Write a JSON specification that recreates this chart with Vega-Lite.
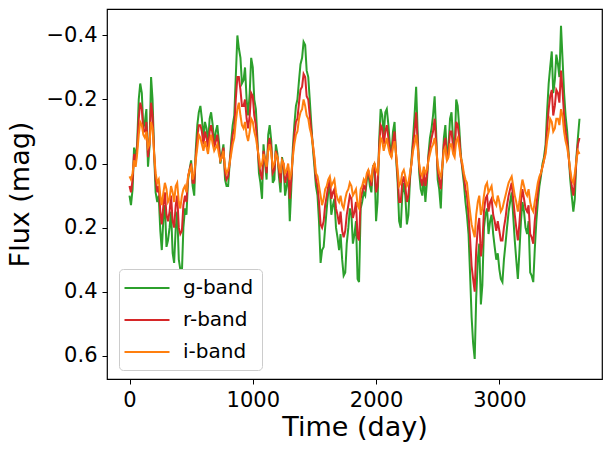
{
  "$schema": "https://vega.github.io/schema/vega-lite/v6.json",
  "autosize": "none",
  "width": 495,
  "height": 370,
  "padding": {"left": 107, "top": 9, "right": 11, "bottom": 73},
  "background": "white",
  "config": {
    "font": "DejaVu Sans",
    "view": {"stroke": "black", "strokeWidth": 1.2},
    "axis": {
      "domain": false,
      "grid": false,
      "tickColor": "black",
      "tickSize": 5,
      "tickWidth": 1,
      "labelColor": "black",
      "labelFontSize": 21,
      "labelPadding": 5,
      "titleColor": "black",
      "titleFontSize": 27,
      "titleFontWeight": "normal"
    }
  },
  "data": {
    "values": [
      {"t":0,"band":"g-band","mag":0.10},{"t":25,"band":"g-band","mag":0.08},{"t":50,"band":"g-band","mag":-0.02},{"t":75,"band":"g-band","mag":-0.20},{"t":100,"band":"g-band","mag":-0.22},{"t":125,"band":"g-band","mag":-0.13},{"t":150,"band":"g-band","mag":0.01},{"t":175,"band":"g-band","mag":-0.27},{"t":200,"band":"g-band","mag":-0.03},{"t":225,"band":"g-band","mag":0.12},{"t":250,"band":"g-band","mag":0.21},{"t":275,"band":"g-band","mag":0.17},{"t":300,"band":"g-band","mag":0.26},{"t":325,"band":"g-band","mag":0.20},{"t":350,"band":"g-band","mag":0.28},{"t":375,"band":"g-band","mag":0.20},{"t":400,"band":"g-band","mag":0.30},{"t":425,"band":"g-band","mag":0.34},{"t":450,"band":"g-band","mag":0.14},{"t":475,"band":"g-band","mag":0.05},{"t":500,"band":"g-band","mag":-0.01},{"t":525,"band":"g-band","mag":0.10},{"t":550,"band":"g-band","mag":-0.12},{"t":575,"band":"g-band","mag":-0.18},{"t":600,"band":"g-band","mag":-0.08},{"t":625,"band":"g-band","mag":-0.11},{"t":650,"band":"g-band","mag":-0.14},{"t":675,"band":"g-band","mag":-0.12},{"t":700,"band":"g-band","mag":-0.10},{"t":725,"band":"g-band","mag":-0.07},{"t":750,"band":"g-band","mag":-0.03},{"t":775,"band":"g-band","mag":0.05},{"t":800,"band":"g-band","mag":0.07},{"t":825,"band":"g-band","mag":-0.07},{"t":850,"band":"g-band","mag":-0.15},{"t":875,"band":"g-band","mag":-0.40},{"t":900,"band":"g-band","mag":-0.33},{"t":925,"band":"g-band","mag":-0.26},{"t":950,"band":"g-band","mag":-0.20},{"t":975,"band":"g-band","mag":-0.22},{"t":1000,"band":"g-band","mag":-0.30},{"t":1025,"band":"g-band","mag":-0.17},{"t":1050,"band":"g-band","mag":0.03},{"t":1075,"band":"g-band","mag":0.11},{"t":1100,"band":"g-band","mag":0.00},{"t":1125,"band":"g-band","mag":-0.09},{"t":1150,"band":"g-band","mag":-0.07},{"t":1175,"band":"g-band","mag":0.05},{"t":1200,"band":"g-band","mag":-0.03},{"t":1225,"band":"g-band","mag":0.09},{"t":1250,"band":"g-band","mag":0.01},{"t":1275,"band":"g-band","mag":0.07},{"t":1300,"band":"g-band","mag":0.18},{"t":1325,"band":"g-band","mag":-0.05},{"t":1350,"band":"g-band","mag":-0.18},{"t":1375,"band":"g-band","mag":-0.26},{"t":1400,"band":"g-band","mag":-0.33},{"t":1425,"band":"g-band","mag":-0.37},{"t":1450,"band":"g-band","mag":-0.27},{"t":1475,"band":"g-band","mag":-0.12},{"t":1500,"band":"g-band","mag":0.01},{"t":1525,"band":"g-band","mag":0.10},{"t":1550,"band":"g-band","mag":0.31},{"t":1575,"band":"g-band","mag":0.26},{"t":1600,"band":"g-band","mag":0.14},{"t":1625,"band":"g-band","mag":0.07},{"t":1650,"band":"g-band","mag":0.13},{"t":1675,"band":"g-band","mag":0.20},{"t":1700,"band":"g-band","mag":0.27},{"t":1725,"band":"g-band","mag":0.30},{"t":1750,"band":"g-band","mag":0.34},{"t":1775,"band":"g-band","mag":0.20},{"t":1800,"band":"g-band","mag":0.16},{"t":1825,"band":"g-band","mag":0.22},{"t":1850,"band":"g-band","mag":0.36},{"t":1875,"band":"g-band","mag":0.14},{"t":1900,"band":"g-band","mag":0.09},{"t":1925,"band":"g-band","mag":0.05},{"t":1950,"band":"g-band","mag":0.07},{"t":1975,"band":"g-band","mag":0.01},{"t":2000,"band":"g-band","mag":0.18},{"t":2025,"band":"g-band","mag":-0.07},{"t":2050,"band":"g-band","mag":-0.15},{"t":2075,"band":"g-band","mag":-0.16},{"t":2100,"band":"g-band","mag":-0.12},{"t":2125,"band":"g-band","mag":-0.03},{"t":2150,"band":"g-band","mag":-0.13},{"t":2175,"band":"g-band","mag":0.06},{"t":2200,"band":"g-band","mag":0.20},{"t":2225,"band":"g-band","mag":0.06},{"t":2250,"band":"g-band","mag":0.19},{"t":2275,"band":"g-band","mag":0.05},{"t":2300,"band":"g-band","mag":-0.08},{"t":2325,"band":"g-band","mag":-0.24},{"t":2350,"band":"g-band","mag":0.03},{"t":2375,"band":"g-band","mag":0.10},{"t":2400,"band":"g-band","mag":0.12},{"t":2425,"band":"g-band","mag":-0.03},{"t":2450,"band":"g-band","mag":-0.11},{"t":2475,"band":"g-band","mag":-0.21},{"t":2500,"band":"g-band","mag":0.05},{"t":2525,"band":"g-band","mag":0.14},{"t":2550,"band":"g-band","mag":-0.08},{"t":2575,"band":"g-band","mag":-0.02},{"t":2600,"band":"g-band","mag":-0.14},{"t":2625,"band":"g-band","mag":-0.07},{"t":2650,"band":"g-band","mag":-0.20},{"t":2675,"band":"g-band","mag":-0.11},{"t":2700,"band":"g-band","mag":0.02},{"t":2725,"band":"g-band","mag":0.12},{"t":2750,"band":"g-band","mag":0.22},{"t":2775,"band":"g-band","mag":0.48},{"t":2800,"band":"g-band","mag":0.61},{"t":2825,"band":"g-band","mag":0.30},{"t":2850,"band":"g-band","mag":0.44},{"t":2875,"band":"g-band","mag":0.20},{"t":2900,"band":"g-band","mag":0.14},{"t":2925,"band":"g-band","mag":0.18},{"t":2950,"band":"g-band","mag":0.22},{"t":2975,"band":"g-band","mag":0.30},{"t":3000,"band":"g-band","mag":0.33},{"t":3025,"band":"g-band","mag":0.37},{"t":3050,"band":"g-band","mag":0.25},{"t":3075,"band":"g-band","mag":0.15},{"t":3100,"band":"g-band","mag":0.09},{"t":3125,"band":"g-band","mag":0.24},{"t":3150,"band":"g-band","mag":0.36},{"t":3175,"band":"g-band","mag":0.18},{"t":3200,"band":"g-band","mag":0.15},{"t":3225,"band":"g-band","mag":0.22},{"t":3250,"band":"g-band","mag":0.34},{"t":3275,"band":"g-band","mag":0.37},{"t":3300,"band":"g-band","mag":0.18},{"t":3325,"band":"g-band","mag":0.07},{"t":3350,"band":"g-band","mag":0.00},{"t":3375,"band":"g-band","mag":-0.06},{"t":3400,"band":"g-band","mag":-0.25},{"t":3425,"band":"g-band","mag":-0.35},{"t":3450,"band":"g-band","mag":-0.26},{"t":3475,"band":"g-band","mag":-0.31},{"t":3500,"band":"g-band","mag":-0.43},{"t":3525,"band":"g-band","mag":-0.22},{"t":3550,"band":"g-band","mag":-0.10},{"t":3575,"band":"g-band","mag":0.05},{"t":3600,"band":"g-band","mag":0.15},{"t":3625,"band":"g-band","mag":-0.02},{"t":3650,"band":"g-band","mag":-0.14},

      {"t":0,"band":"r-band","mag":0.07},{"t":25,"band":"r-band","mag":0.05},{"t":50,"band":"r-band","mag":0.00},{"t":75,"band":"r-band","mag":-0.14},{"t":100,"band":"r-band","mag":-0.17},{"t":125,"band":"r-band","mag":-0.10},{"t":150,"band":"r-band","mag":-0.02},{"t":175,"band":"r-band","mag":-0.19},{"t":200,"band":"r-band","mag":-0.03},{"t":225,"band":"r-band","mag":0.09},{"t":250,"band":"r-band","mag":0.15},{"t":275,"band":"r-band","mag":0.13},{"t":300,"band":"r-band","mag":0.16},{"t":325,"band":"r-band","mag":0.15},{"t":350,"band":"r-band","mag":0.18},{"t":375,"band":"r-band","mag":0.13},{"t":400,"band":"r-band","mag":0.20},{"t":425,"band":"r-band","mag":0.21},{"t":450,"band":"r-band","mag":0.10},{"t":475,"band":"r-band","mag":0.04},{"t":500,"band":"r-band","mag":0.00},{"t":525,"band":"r-band","mag":0.06},{"t":550,"band":"r-band","mag":-0.08},{"t":575,"band":"r-band","mag":-0.12},{"t":600,"band":"r-band","mag":-0.06},{"t":625,"band":"r-band","mag":-0.08},{"t":650,"band":"r-band","mag":-0.10},{"t":675,"band":"r-band","mag":-0.09},{"t":700,"band":"r-band","mag":-0.07},{"t":725,"band":"r-band","mag":-0.05},{"t":750,"band":"r-band","mag":-0.02},{"t":775,"band":"r-band","mag":0.03},{"t":800,"band":"r-band","mag":0.04},{"t":825,"band":"r-band","mag":-0.05},{"t":850,"band":"r-band","mag":-0.11},{"t":875,"band":"r-band","mag":-0.27},{"t":900,"band":"r-band","mag":-0.23},{"t":925,"band":"r-band","mag":-0.18},{"t":950,"band":"r-band","mag":-0.14},{"t":975,"band":"r-band","mag":-0.15},{"t":1000,"band":"r-band","mag":-0.21},{"t":1025,"band":"r-band","mag":-0.12},{"t":1050,"band":"r-band","mag":0.00},{"t":1075,"band":"r-band","mag":0.05},{"t":1100,"band":"r-band","mag":-0.01},{"t":1125,"band":"r-band","mag":-0.06},{"t":1150,"band":"r-band","mag":-0.05},{"t":1175,"band":"r-band","mag":0.02},{"t":1200,"band":"r-band","mag":-0.02},{"t":1225,"band":"r-band","mag":0.06},{"t":1250,"band":"r-band","mag":0.00},{"t":1275,"band":"r-band","mag":0.04},{"t":1300,"band":"r-band","mag":0.11},{"t":1325,"band":"r-band","mag":-0.03},{"t":1350,"band":"r-band","mag":-0.13},{"t":1375,"band":"r-band","mag":-0.19},{"t":1400,"band":"r-band","mag":-0.24},{"t":1425,"band":"r-band","mag":-0.27},{"t":1450,"band":"r-band","mag":-0.20},{"t":1475,"band":"r-band","mag":-0.10},{"t":1500,"band":"r-band","mag":-0.01},{"t":1525,"band":"r-band","mag":0.07},{"t":1550,"band":"r-band","mag":0.19},{"t":1575,"band":"r-band","mag":0.18},{"t":1600,"band":"r-band","mag":0.10},{"t":1625,"band":"r-band","mag":0.05},{"t":1650,"band":"r-band","mag":0.09},{"t":1675,"band":"r-band","mag":0.14},{"t":1700,"band":"r-band","mag":0.19},{"t":1725,"band":"r-band","mag":0.21},{"t":1750,"band":"r-band","mag":0.21},{"t":1775,"band":"r-band","mag":0.13},{"t":1800,"band":"r-band","mag":0.11},{"t":1825,"band":"r-band","mag":0.15},{"t":1850,"band":"r-band","mag":0.23},{"t":1875,"band":"r-band","mag":0.11},{"t":1900,"band":"r-band","mag":0.07},{"t":1925,"band":"r-band","mag":0.04},{"t":1950,"band":"r-band","mag":0.05},{"t":1975,"band":"r-band","mag":0.01},{"t":2000,"band":"r-band","mag":0.09},{"t":2025,"band":"r-band","mag":-0.05},{"t":2050,"band":"r-band","mag":-0.11},{"t":2075,"band":"r-band","mag":-0.10},{"t":2100,"band":"r-band","mag":-0.08},{"t":2125,"band":"r-band","mag":-0.02},{"t":2150,"band":"r-band","mag":-0.10},{"t":2175,"band":"r-band","mag":0.04},{"t":2200,"band":"r-band","mag":0.12},{"t":2225,"band":"r-band","mag":0.04},{"t":2250,"band":"r-band","mag":0.12},{"t":2275,"band":"r-band","mag":0.04},{"t":2300,"band":"r-band","mag":-0.06},{"t":2325,"band":"r-band","mag":-0.16},{"t":2350,"band":"r-band","mag":0.01},{"t":2375,"band":"r-band","mag":0.07},{"t":2400,"band":"r-band","mag":0.07},{"t":2425,"band":"r-band","mag":-0.02},{"t":2450,"band":"r-band","mag":-0.08},{"t":2475,"band":"r-band","mag":-0.14},{"t":2500,"band":"r-band","mag":0.02},{"t":2525,"band":"r-band","mag":0.08},{"t":2550,"band":"r-band","mag":-0.06},{"t":2575,"band":"r-band","mag":-0.01},{"t":2600,"band":"r-band","mag":-0.10},{"t":2625,"band":"r-band","mag":-0.05},{"t":2650,"band":"r-band","mag":-0.13},{"t":2675,"band":"r-band","mag":-0.08},{"t":2700,"band":"r-band","mag":0.01},{"t":2725,"band":"r-band","mag":0.08},{"t":2750,"band":"r-band","mag":0.16},{"t":2775,"band":"r-band","mag":0.32},{"t":2800,"band":"r-band","mag":0.40},{"t":2825,"band":"r-band","mag":0.20},{"t":2850,"band":"r-band","mag":0.29},{"t":2875,"band":"r-band","mag":0.15},{"t":2900,"band":"r-band","mag":0.10},{"t":2925,"band":"r-band","mag":0.12},{"t":2950,"band":"r-band","mag":0.16},{"t":2975,"band":"r-band","mag":0.21},{"t":3000,"band":"r-band","mag":0.21},{"t":3025,"band":"r-band","mag":0.24},{"t":3050,"band":"r-band","mag":0.17},{"t":3075,"band":"r-band","mag":0.10},{"t":3100,"band":"r-band","mag":0.06},{"t":3125,"band":"r-band","mag":0.16},{"t":3150,"band":"r-band","mag":0.24},{"t":3175,"band":"r-band","mag":0.12},{"t":3200,"band":"r-band","mag":0.11},{"t":3225,"band":"r-band","mag":0.15},{"t":3250,"band":"r-band","mag":0.22},{"t":3275,"band":"r-band","mag":0.25},{"t":3300,"band":"r-band","mag":0.13},{"t":3325,"band":"r-band","mag":0.05},{"t":3350,"band":"r-band","mag":0.01},{"t":3375,"band":"r-band","mag":-0.04},{"t":3400,"band":"r-band","mag":-0.17},{"t":3425,"band":"r-band","mag":-0.23},{"t":3450,"band":"r-band","mag":-0.18},{"t":3475,"band":"r-band","mag":-0.22},{"t":3500,"band":"r-band","mag":-0.29},{"t":3525,"band":"r-band","mag":-0.15},{"t":3550,"band":"r-band","mag":-0.07},{"t":3575,"band":"r-band","mag":0.03},{"t":3600,"band":"r-band","mag":0.10},{"t":3625,"band":"r-band","mag":-0.01},{"t":3650,"band":"r-band","mag":-0.08},

      {"t":0,"band":"i-band","mag":0.04},{"t":25,"band":"i-band","mag":0.03},{"t":50,"band":"i-band","mag":0.01},{"t":75,"band":"i-band","mag":-0.09},{"t":100,"band":"i-band","mag":-0.12},{"t":125,"band":"i-band","mag":-0.08},{"t":150,"band":"i-band","mag":-0.05},{"t":175,"band":"i-band","mag":-0.13},{"t":200,"band":"i-band","mag":-0.03},{"t":225,"band":"i-band","mag":0.06},{"t":250,"band":"i-band","mag":0.10},{"t":275,"band":"i-band","mag":0.09},{"t":300,"band":"i-band","mag":0.08},{"t":325,"band":"i-band","mag":0.11},{"t":350,"band":"i-band","mag":0.09},{"t":375,"band":"i-band","mag":0.07},{"t":400,"band":"i-band","mag":0.12},{"t":425,"band":"i-band","mag":0.10},{"t":450,"band":"i-band","mag":0.07},{"t":475,"band":"i-band","mag":0.04},{"t":500,"band":"i-band","mag":0.01},{"t":525,"band":"i-band","mag":0.03},{"t":550,"band":"i-band","mag":-0.05},{"t":575,"band":"i-band","mag":-0.08},{"t":600,"band":"i-band","mag":-0.04},{"t":625,"band":"i-band","mag":-0.05},{"t":650,"band":"i-band","mag":-0.07},{"t":675,"band":"i-band","mag":-0.06},{"t":700,"band":"i-band","mag":-0.05},{"t":725,"band":"i-band","mag":-0.03},{"t":750,"band":"i-band","mag":-0.02},{"t":775,"band":"i-band","mag":0.01},{"t":800,"band":"i-band","mag":0.02},{"t":825,"band":"i-band","mag":-0.03},{"t":850,"band":"i-band","mag":-0.08},{"t":875,"band":"i-band","mag":-0.17},{"t":900,"band":"i-band","mag":-0.15},{"t":925,"band":"i-band","mag":-0.11},{"t":950,"band":"i-band","mag":-0.09},{"t":975,"band":"i-band","mag":-0.10},{"t":1000,"band":"i-band","mag":-0.13},{"t":1025,"band":"i-band","mag":-0.08},{"t":1050,"band":"i-band","mag":-0.02},{"t":1075,"band":"i-band","mag":0.00},{"t":1100,"band":"i-band","mag":-0.01},{"t":1125,"band":"i-band","mag":-0.04},{"t":1150,"band":"i-band","mag":-0.03},{"t":1175,"band":"i-band","mag":0.00},{"t":1200,"band":"i-band","mag":-0.02},{"t":1225,"band":"i-band","mag":0.03},{"t":1250,"band":"i-band","mag":0.00},{"t":1275,"band":"i-band","mag":0.02},{"t":1300,"band":"i-band","mag":0.05},{"t":1325,"band":"i-band","mag":-0.02},{"t":1350,"band":"i-band","mag":-0.09},{"t":1375,"band":"i-band","mag":-0.14},{"t":1400,"band":"i-band","mag":-0.17},{"t":1425,"band":"i-band","mag":-0.18},{"t":1450,"band":"i-band","mag":-0.14},{"t":1475,"band":"i-band","mag":-0.09},{"t":1500,"band":"i-band","mag":-0.02},{"t":1525,"band":"i-band","mag":0.04},{"t":1550,"band":"i-band","mag":0.10},{"t":1575,"band":"i-band","mag":0.11},{"t":1600,"band":"i-band","mag":0.07},{"t":1625,"band":"i-band","mag":0.04},{"t":1650,"band":"i-band","mag":0.06},{"t":1675,"band":"i-band","mag":0.09},{"t":1700,"band":"i-band","mag":0.12},{"t":1725,"band":"i-band","mag":0.13},{"t":1750,"band":"i-band","mag":0.11},{"t":1775,"band":"i-band","mag":0.08},{"t":1800,"band":"i-band","mag":0.07},{"t":1825,"band":"i-band","mag":0.09},{"t":1850,"band":"i-band","mag":0.13},{"t":1875,"band":"i-band","mag":0.08},{"t":1900,"band":"i-band","mag":0.05},{"t":1925,"band":"i-band","mag":0.03},{"t":1950,"band":"i-band","mag":0.04},{"t":1975,"band":"i-band","mag":0.01},{"t":2000,"band":"i-band","mag":0.02},{"t":2025,"band":"i-band","mag":-0.03},{"t":2050,"band":"i-band","mag":-0.07},{"t":2075,"band":"i-band","mag":-0.06},{"t":2100,"band":"i-band","mag":-0.05},{"t":2125,"band":"i-band","mag":-0.02},{"t":2150,"band":"i-band","mag":-0.07},{"t":2175,"band":"i-band","mag":0.02},{"t":2200,"band":"i-band","mag":0.06},{"t":2225,"band":"i-band","mag":0.02},{"t":2250,"band":"i-band","mag":0.07},{"t":2275,"band":"i-band","mag":0.03},{"t":2300,"band":"i-band","mag":-0.04},{"t":2325,"band":"i-band","mag":-0.09},{"t":2350,"band":"i-band","mag":0.00},{"t":2375,"band":"i-band","mag":0.04},{"t":2400,"band":"i-band","mag":0.03},{"t":2425,"band":"i-band","mag":-0.01},{"t":2450,"band":"i-band","mag":-0.05},{"t":2475,"band":"i-band","mag":-0.08},{"t":2500,"band":"i-band","mag":0.00},{"t":2525,"band":"i-band","mag":0.04},{"t":2550,"band":"i-band","mag":-0.04},{"t":2575,"band":"i-band","mag":-0.01},{"t":2600,"band":"i-band","mag":-0.06},{"t":2625,"band":"i-band","mag":-0.03},{"t":2650,"band":"i-band","mag":-0.07},{"t":2675,"band":"i-band","mag":-0.05},{"t":2700,"band":"i-band","mag":0.00},{"t":2725,"band":"i-band","mag":0.05},{"t":2750,"band":"i-band","mag":0.11},{"t":2775,"band":"i-band","mag":0.19},{"t":2800,"band":"i-band","mag":0.23},{"t":2825,"band":"i-band","mag":0.12},{"t":2850,"band":"i-band","mag":0.16},{"t":2875,"band":"i-band","mag":0.10},{"t":2900,"band":"i-band","mag":0.06},{"t":2925,"band":"i-band","mag":0.08},{"t":2950,"band":"i-band","mag":0.11},{"t":2975,"band":"i-band","mag":0.13},{"t":3000,"band":"i-band","mag":0.12},{"t":3025,"band":"i-band","mag":0.14},{"t":3050,"band":"i-band","mag":0.10},{"t":3075,"band":"i-band","mag":0.06},{"t":3100,"band":"i-band","mag":0.04},{"t":3125,"band":"i-band","mag":0.10},{"t":3150,"band":"i-band","mag":0.15},{"t":3175,"band":"i-band","mag":0.08},{"t":3200,"band":"i-band","mag":0.07},{"t":3225,"band":"i-band","mag":0.10},{"t":3250,"band":"i-band","mag":0.12},{"t":3275,"band":"i-band","mag":0.15},{"t":3300,"band":"i-band","mag":0.09},{"t":3325,"band":"i-band","mag":0.04},{"t":3350,"band":"i-band","mag":0.01},{"t":3375,"band":"i-band","mag":-0.03},{"t":3400,"band":"i-band","mag":-0.10},{"t":3425,"band":"i-band","mag":-0.13},{"t":3450,"band":"i-band","mag":-0.11},{"t":3475,"band":"i-band","mag":-0.14},{"t":3500,"band":"i-band","mag":-0.17},{"t":3525,"band":"i-band","mag":-0.10},{"t":3550,"band":"i-band","mag":-0.05},{"t":3575,"band":"i-band","mag":0.02},{"t":3600,"band":"i-band","mag":0.06},{"t":3625,"band":"i-band","mag":-0.01},{"t":3650,"band":"i-band","mag":-0.03},

      {"t":12,"band":"g-band","mag":0.13},{"t":37,"band":"g-band","mag":-0.05},{"t":62,"band":"g-band","mag":-0.06},{"t":87,"band":"g-band","mag":-0.25},{"t":112,"band":"g-band","mag":-0.11},{"t":137,"band":"g-band","mag":-0.17},{"t":162,"band":"g-band","mag":-0.05},{"t":187,"band":"g-band","mag":-0.20},{"t":212,"band":"g-band","mag":0.09},{"t":237,"band":"g-band","mag":0.10},{"t":262,"band":"g-band","mag":0.27},{"t":287,"band":"g-band","mag":0.13},{"t":312,"band":"g-band","mag":0.24},{"t":337,"band":"g-band","mag":0.15},{"t":362,"band":"g-band","mag":0.31},{"t":387,"band":"g-band","mag":0.15},{"t":412,"band":"g-band","mag":0.33},{"t":437,"band":"g-band","mag":0.20},{"t":462,"band":"g-band","mag":0.16},{"t":487,"band":"g-band","mag":0.02},{"t":512,"band":"g-band","mag":0.07},{"t":537,"band":"g-band","mag":-0.04},{"t":562,"band":"g-band","mag":-0.16},{"t":587,"band":"g-band","mag":-0.14},{"t":612,"band":"g-band","mag":-0.13},{"t":637,"band":"g-band","mag":-0.06},{"t":662,"band":"g-band","mag":-0.16},{"t":687,"band":"g-band","mag":-0.06},{"t":712,"band":"g-band","mag":-0.12},{"t":737,"band":"g-band","mag":0.00},{"t":762,"band":"g-band","mag":-0.06},{"t":787,"band":"g-band","mag":0.07},{"t":812,"band":"g-band","mag":0.00},{"t":837,"band":"g-band","mag":-0.12},{"t":862,"band":"g-band","mag":-0.27},{"t":887,"band":"g-band","mag":-0.36},{"t":912,"band":"g-band","mag":-0.25},{"t":937,"band":"g-band","mag":-0.30},{"t":962,"band":"g-band","mag":-0.15},{"t":987,"band":"g-band","mag":-0.33},{"t":1012,"band":"g-band","mag":-0.20},{"t":1037,"band":"g-band","mag":-0.08},{"t":1062,"band":"g-band","mag":0.06},{"t":1087,"band":"g-band","mag":-0.06},{"t":1112,"band":"g-band","mag":0.05},{"t":1137,"band":"g-band","mag":-0.12},{"t":1162,"band":"g-band","mag":0.06},{"t":1187,"band":"g-band","mag":-0.06},{"t":1212,"band":"g-band","mag":0.04},{"t":1237,"band":"g-band","mag":-0.02},{"t":1262,"band":"g-band","mag":0.10},{"t":1287,"band":"g-band","mag":0.02},{"t":1312,"band":"g-band","mag":0.08},{"t":1337,"band":"g-band","mag":-0.12},{"t":1362,"band":"g-band","mag":-0.20},{"t":1387,"band":"g-band","mag":-0.31},{"t":1412,"band":"g-band","mag":-0.38},{"t":1437,"band":"g-band","mag":-0.29},{"t":1462,"band":"g-band","mag":-0.20},{"t":1487,"band":"g-band","mag":-0.05},{"t":1512,"band":"g-band","mag":0.07},{"t":1537,"band":"g-band","mag":0.18},{"t":1562,"band":"g-band","mag":0.27},{"t":1587,"band":"g-band","mag":0.20},{"t":1612,"band":"g-band","mag":0.09},{"t":1637,"band":"g-band","mag":0.16},{"t":1662,"band":"g-band","mag":0.11},{"t":1687,"band":"g-band","mag":0.23},{"t":1712,"band":"g-band","mag":0.22},{"t":1737,"band":"g-band","mag":0.35},{"t":1762,"band":"g-band","mag":0.25},{"t":1787,"band":"g-band","mag":0.14},{"t":1812,"band":"g-band","mag":0.25},{"t":1837,"band":"g-band","mag":0.18},{"t":1862,"band":"g-band","mag":0.37},{"t":1887,"band":"g-band","mag":0.12},{"t":1912,"band":"g-band","mag":0.10},{"t":1937,"band":"g-band","mag":0.03},{"t":1962,"band":"g-band","mag":0.09},{"t":1987,"band":"g-band","mag":0.00},{"t":2012,"band":"g-band","mag":0.12},{"t":2037,"band":"g-band","mag":-0.17},{"t":2062,"band":"g-band","mag":-0.09},{"t":2087,"band":"g-band","mag":-0.17},{"t":2112,"band":"g-band","mag":-0.06},{"t":2137,"band":"g-band","mag":-0.10},{"t":2162,"band":"g-band","mag":-0.02},{"t":2187,"band":"g-band","mag":0.18},{"t":2212,"band":"g-band","mag":0.10},{"t":2237,"band":"g-band","mag":0.10},{"t":2262,"band":"g-band","mag":0.16},{"t":2287,"band":"g-band","mag":-0.01},{"t":2312,"band":"g-band","mag":-0.15},{"t":2337,"band":"g-band","mag":-0.10},{"t":2362,"band":"g-band","mag":0.08},{"t":2387,"band":"g-band","mag":0.04},{"t":2412,"band":"g-band","mag":0.06},{"t":2437,"band":"g-band","mag":-0.08},{"t":2462,"band":"g-band","mag":-0.15},{"t":2487,"band":"g-band","mag":-0.10},{"t":2512,"band":"g-band","mag":0.08},{"t":2537,"band":"g-band","mag":0.02},{"t":2562,"band":"g-band","mag":-0.12},{"t":2587,"band":"g-band","mag":-0.05},{"t":2612,"band":"g-band","mag":-0.16},{"t":2637,"band":"g-band","mag":-0.04},{"t":2662,"band":"g-band","mag":-0.18},{"t":2687,"band":"g-band","mag":-0.03},{"t":2712,"band":"g-band","mag":0.06},{"t":2737,"band":"g-band","mag":0.16},{"t":2762,"band":"g-band","mag":0.34},{"t":2787,"band":"g-band","mag":0.56},{"t":2812,"band":"g-band","mag":0.42},{"t":2837,"band":"g-band","mag":0.25},{"t":2862,"band":"g-band","mag":0.38},{"t":2887,"band":"g-band","mag":0.16},{"t":2912,"band":"g-band","mag":0.22},{"t":2937,"band":"g-band","mag":0.16},{"t":2962,"band":"g-band","mag":0.26},{"t":2987,"band":"g-band","mag":0.28},{"t":3012,"band":"g-band","mag":0.36},{"t":3037,"band":"g-band","mag":0.30},{"t":3062,"band":"g-band","mag":0.20},{"t":3087,"band":"g-band","mag":0.12},{"t":3112,"band":"g-band","mag":0.16},{"t":3137,"band":"g-band","mag":0.30},{"t":3162,"band":"g-band","mag":0.28},{"t":3187,"band":"g-band","mag":0.12},{"t":3212,"band":"g-band","mag":0.20},{"t":3237,"band":"g-band","mag":0.18},{"t":3262,"band":"g-band","mag":0.35},{"t":3287,"band":"g-band","mag":0.27},{"t":3312,"band":"g-band","mag":0.12},{"t":3337,"band":"g-band","mag":0.04},{"t":3362,"band":"g-band","mag":-0.02},{"t":3387,"band":"g-band","mag":-0.16},{"t":3412,"band":"g-band","mag":-0.30},{"t":3437,"band":"g-band","mag":-0.22},{"t":3462,"band":"g-band","mag":-0.34},{"t":3487,"band":"g-band","mag":-0.27},{"t":3512,"band":"g-band","mag":-0.33},{"t":3537,"band":"g-band","mag":-0.15},{"t":3562,"band":"g-band","mag":-0.03},{"t":3587,"band":"g-band","mag":0.10},{"t":3612,"band":"g-band","mag":0.11},{"t":3637,"band":"g-band","mag":-0.08},

      {"t":12,"band":"r-band","mag":0.09},{"t":37,"band":"r-band","mag":-0.03},{"t":62,"band":"r-band","mag":-0.05},{"t":87,"band":"r-band","mag":-0.19},{"t":112,"band":"r-band","mag":-0.10},{"t":137,"band":"r-band","mag":-0.13},{"t":162,"band":"r-band","mag":-0.06},{"t":187,"band":"r-band","mag":-0.15},{"t":212,"band":"r-band","mag":0.05},{"t":237,"band":"r-band","mag":0.07},{"t":262,"band":"r-band","mag":0.19},{"t":287,"band":"r-band","mag":0.09},{"t":312,"band":"r-band","mag":0.18},{"t":337,"band":"r-band","mag":0.10},{"t":362,"band":"r-band","mag":0.20},{"t":387,"band":"r-band","mag":0.10},{"t":412,"band":"r-band","mag":0.22},{"t":437,"band":"r-band","mag":0.13},{"t":462,"band":"r-band","mag":0.12},{"t":487,"band":"r-band","mag":0.02},{"t":512,"band":"r-band","mag":0.06},{"t":537,"band":"r-band","mag":-0.02},{"t":562,"band":"r-band","mag":-0.12},{"t":587,"band":"r-band","mag":-0.10},{"t":612,"band":"r-band","mag":-0.10},{"t":637,"band":"r-band","mag":-0.05},{"t":662,"band":"r-band","mag":-0.12},{"t":687,"band":"r-band","mag":-0.05},{"t":712,"band":"r-band","mag":-0.09},{"t":737,"band":"r-band","mag":-0.01},{"t":762,"band":"r-band","mag":-0.05},{"t":787,"band":"r-band","mag":0.05},{"t":812,"band":"r-band","mag":0.00},{"t":837,"band":"r-band","mag":-0.09},{"t":862,"band":"r-band","mag":-0.20},{"t":887,"band":"r-band","mag":-0.27},{"t":912,"band":"r-band","mag":-0.18},{"t":937,"band":"r-band","mag":-0.20},{"t":962,"band":"r-band","mag":-0.11},{"t":987,"band":"r-band","mag":-0.22},{"t":1012,"band":"r-band","mag":-0.15},{"t":1037,"band":"r-band","mag":-0.06},{"t":1062,"band":"r-band","mag":0.03},{"t":1087,"band":"r-band","mag":-0.04},{"t":1112,"band":"r-band","mag":0.03},{"t":1137,"band":"r-band","mag":-0.08},{"t":1162,"band":"r-band","mag":0.03},{"t":1187,"band":"r-band","mag":-0.04},{"t":1212,"band":"r-band","mag":0.02},{"t":1237,"band":"r-band","mag":-0.01},{"t":1262,"band":"r-band","mag":0.06},{"t":1287,"band":"r-band","mag":0.01},{"t":1312,"band":"r-band","mag":0.05},{"t":1337,"band":"r-band","mag":-0.09},{"t":1362,"band":"r-band","mag":-0.14},{"t":1387,"band":"r-band","mag":-0.23},{"t":1412,"band":"r-band","mag":-0.28},{"t":1437,"band":"r-band","mag":-0.21},{"t":1462,"band":"r-band","mag":-0.15},{"t":1487,"band":"r-band","mag":-0.06},{"t":1512,"band":"r-band","mag":0.05},{"t":1537,"band":"r-band","mag":0.12},{"t":1562,"band":"r-band","mag":0.20},{"t":1587,"band":"r-band","mag":0.13},{"t":1612,"band":"r-band","mag":0.07},{"t":1637,"band":"r-band","mag":0.11},{"t":1662,"band":"r-band","mag":0.08},{"t":1687,"band":"r-band","mag":0.16},{"t":1712,"band":"r-band","mag":0.15},{"t":1737,"band":"r-band","mag":0.23},{"t":1762,"band":"r-band","mag":0.16},{"t":1787,"band":"r-band","mag":0.10},{"t":1812,"band":"r-band","mag":0.17},{"t":1837,"band":"r-band","mag":0.12},{"t":1862,"band":"r-band","mag":0.24},{"t":1887,"band":"r-band","mag":0.09},{"t":1912,"band":"r-band","mag":0.08},{"t":1937,"band":"r-band","mag":0.02},{"t":1962,"band":"r-band","mag":0.07},{"t":1987,"band":"r-band","mag":0.00},{"t":2012,"band":"r-band","mag":0.07},{"t":2037,"band":"r-band","mag":-0.12},{"t":2062,"band":"r-band","mag":-0.06},{"t":2087,"band":"r-band","mag":-0.12},{"t":2112,"band":"r-band","mag":-0.04},{"t":2137,"band":"r-band","mag":-0.07},{"t":2162,"band":"r-band","mag":-0.03},{"t":2187,"band":"r-band","mag":0.12},{"t":2212,"band":"r-band","mag":0.06},{"t":2237,"band":"r-band","mag":0.07},{"t":2262,"band":"r-band","mag":0.10},{"t":2287,"band":"r-band","mag":0.00},{"t":2312,"band":"r-band","mag":-0.10},{"t":2337,"band":"r-band","mag":-0.07},{"t":2362,"band":"r-band","mag":0.05},{"t":2387,"band":"r-band","mag":0.02},{"t":2412,"band":"r-band","mag":0.04},{"t":2437,"band":"r-band","mag":-0.05},{"t":2462,"band":"r-band","mag":-0.10},{"t":2487,"band":"r-band","mag":-0.07},{"t":2512,"band":"r-band","mag":0.05},{"t":2537,"band":"r-band","mag":0.01},{"t":2562,"band":"r-band","mag":-0.08},{"t":2587,"band":"r-band","mag":-0.03},{"t":2612,"band":"r-band","mag":-0.10},{"t":2637,"band":"r-band","mag":-0.03},{"t":2662,"band":"r-band","mag":-0.12},{"t":2687,"band":"r-band","mag":-0.02},{"t":2712,"band":"r-band","mag":0.04},{"t":2737,"band":"r-band","mag":0.10},{"t":2762,"band":"r-band","mag":0.23},{"t":2787,"band":"r-band","mag":0.36},{"t":2812,"band":"r-band","mag":0.27},{"t":2837,"band":"r-band","mag":0.17},{"t":2862,"band":"r-band","mag":0.25},{"t":2887,"band":"r-band","mag":0.11},{"t":2912,"band":"r-band","mag":0.15},{"t":2937,"band":"r-band","mag":0.11},{"t":2962,"band":"r-band","mag":0.18},{"t":2987,"band":"r-band","mag":0.18},{"t":3012,"band":"r-band","mag":0.24},{"t":3037,"band":"r-band","mag":0.20},{"t":3062,"band":"r-band","mag":0.13},{"t":3087,"band":"r-band","mag":0.08},{"t":3112,"band":"r-band","mag":0.11},{"t":3137,"band":"r-band","mag":0.20},{"t":3162,"band":"r-band","mag":0.19},{"t":3187,"band":"r-band","mag":0.08},{"t":3212,"band":"r-band","mag":0.14},{"t":3237,"band":"r-band","mag":0.13},{"t":3262,"band":"r-band","mag":0.23},{"t":3287,"band":"r-band","mag":0.18},{"t":3312,"band":"r-band","mag":0.09},{"t":3337,"band":"r-band","mag":0.03},{"t":3362,"band":"r-band","mag":-0.01},{"t":3387,"band":"r-band","mag":-0.11},{"t":3412,"band":"r-band","mag":-0.21},{"t":3437,"band":"r-band","mag":-0.15},{"t":3462,"band":"r-band","mag":-0.23},{"t":3487,"band":"r-band","mag":-0.19},{"t":3512,"band":"r-band","mag":-0.23},{"t":3537,"band":"r-band","mag":-0.10},{"t":3562,"band":"r-band","mag":-0.02},{"t":3587,"band":"r-band","mag":0.07},{"t":3612,"band":"r-band","mag":0.06},{"t":3637,"band":"r-band","mag":-0.06},

      {"t":12,"band":"i-band","mag":0.05},{"t":37,"band":"i-band","mag":-0.01},{"t":62,"band":"i-band","mag":-0.03},{"t":87,"band":"i-band","mag":-0.13},{"t":112,"band":"i-band","mag":-0.09},{"t":137,"band":"i-band","mag":-0.10},{"t":162,"band":"i-band","mag":-0.06},{"t":187,"band":"i-band","mag":-0.11},{"t":212,"band":"i-band","mag":0.03},{"t":237,"band":"i-band","mag":0.05},{"t":262,"band":"i-band","mag":0.13},{"t":287,"band":"i-band","mag":0.06},{"t":312,"band":"i-band","mag":0.12},{"t":337,"band":"i-band","mag":0.07},{"t":362,"band":"i-band","mag":0.12},{"t":387,"band":"i-band","mag":0.06},{"t":412,"band":"i-band","mag":0.14},{"t":437,"band":"i-band","mag":0.08},{"t":462,"band":"i-band","mag":0.09},{"t":487,"band":"i-band","mag":0.02},{"t":512,"band":"i-band","mag":0.05},{"t":537,"band":"i-band","mag":-0.01},{"t":562,"band":"i-band","mag":-0.09},{"t":587,"band":"i-band","mag":-0.06},{"t":612,"band":"i-band","mag":-0.07},{"t":637,"band":"i-band","mag":-0.03},{"t":662,"band":"i-band","mag":-0.09},{"t":687,"band":"i-band","mag":-0.04},{"t":712,"band":"i-band","mag":-0.06},{"t":737,"band":"i-band","mag":-0.01},{"t":762,"band":"i-band","mag":-0.04},{"t":787,"band":"i-band","mag":0.03},{"t":812,"band":"i-band","mag":0.00},{"t":837,"band":"i-band","mag":-0.06},{"t":862,"band":"i-band","mag":-0.13},{"t":887,"band":"i-band","mag":-0.19},{"t":912,"band":"i-band","mag":-0.12},{"t":937,"band":"i-band","mag":-0.13},{"t":962,"band":"i-band","mag":-0.07},{"t":987,"band":"i-band","mag":-0.14},{"t":1012,"band":"i-band","mag":-0.10},{"t":1037,"band":"i-band","mag":-0.05},{"t":1062,"band":"i-band","mag":0.01},{"t":1087,"band":"i-band","mag":-0.03},{"t":1112,"band":"i-band","mag":0.01},{"t":1137,"band":"i-band","mag":-0.06},{"t":1162,"band":"i-band","mag":0.01},{"t":1187,"band":"i-band","mag":-0.03},{"t":1212,"band":"i-band","mag":0.01},{"t":1237,"band":"i-band","mag":-0.01},{"t":1262,"band":"i-band","mag":0.03},{"t":1287,"band":"i-band","mag":0.00},{"t":1312,"band":"i-band","mag":0.03},{"t":1337,"band":"i-band","mag":-0.06},{"t":1362,"band":"i-band","mag":-0.10},{"t":1387,"band":"i-band","mag":-0.16},{"t":1412,"band":"i-band","mag":-0.20},{"t":1437,"band":"i-band","mag":-0.15},{"t":1462,"band":"i-band","mag":-0.11},{"t":1487,"band":"i-band","mag":-0.06},{"t":1512,"band":"i-band","mag":0.03},{"t":1537,"band":"i-band","mag":0.07},{"t":1562,"band":"i-band","mag":0.13},{"t":1587,"band":"i-band","mag":0.08},{"t":1612,"band":"i-band","mag":0.05},{"t":1637,"band":"i-band","mag":0.07},{"t":1662,"band":"i-band","mag":0.05},{"t":1687,"band":"i-band","mag":0.11},{"t":1712,"band":"i-band","mag":0.10},{"t":1737,"band":"i-band","mag":0.14},{"t":1762,"band":"i-band","mag":0.09},{"t":1787,"band":"i-band","mag":0.06},{"t":1812,"band":"i-band","mag":0.10},{"t":1837,"band":"i-band","mag":0.08},{"t":1862,"band":"i-band","mag":0.14},{"t":1887,"band":"i-band","mag":0.07},{"t":1912,"band":"i-band","mag":0.06},{"t":1937,"band":"i-band","mag":0.02},{"t":1962,"band":"i-band","mag":0.05},{"t":1987,"band":"i-band","mag":0.00},{"t":2012,"band":"i-band","mag":0.03},{"t":2037,"band":"i-band","mag":-0.08},{"t":2062,"band":"i-band","mag":-0.04},{"t":2087,"band":"i-band","mag":-0.08},{"t":2112,"band":"i-band","mag":-0.03},{"t":2137,"band":"i-band","mag":-0.05},{"t":2162,"band":"i-band","mag":-0.03},{"t":2187,"band":"i-band","mag":0.07},{"t":2212,"band":"i-band","mag":0.03},{"t":2237,"band":"i-band","mag":0.04},{"t":2262,"band":"i-band","mag":0.06},{"t":2287,"band":"i-band","mag":0.00},{"t":2312,"band":"i-band","mag":-0.06},{"t":2337,"band":"i-band","mag":-0.05},{"t":2362,"band":"i-band","mag":0.03},{"t":2387,"band":"i-band","mag":0.01},{"t":2412,"band":"i-band","mag":0.02},{"t":2437,"band":"i-band","mag":-0.03},{"t":2462,"band":"i-band","mag":-0.06},{"t":2487,"band":"i-band","mag":-0.05},{"t":2512,"band":"i-band","mag":0.03},{"t":2537,"band":"i-band","mag":0.01},{"t":2562,"band":"i-band","mag":-0.05},{"t":2587,"band":"i-band","mag":-0.02},{"t":2612,"band":"i-band","mag":-0.06},{"t":2637,"band":"i-band","mag":-0.02},{"t":2662,"band":"i-band","mag":-0.08},{"t":2687,"band":"i-band","mag":-0.02},{"t":2712,"band":"i-band","mag":0.03},{"t":2737,"band":"i-band","mag":0.06},{"t":2762,"band":"i-band","mag":0.15},{"t":2787,"band":"i-band","mag":0.21},{"t":2812,"band":"i-band","mag":0.16},{"t":2837,"band":"i-band","mag":0.10},{"t":2862,"band":"i-band","mag":0.14},{"t":2887,"band":"i-band","mag":0.07},{"t":2912,"band":"i-band","mag":0.09},{"t":2937,"band":"i-band","mag":0.07},{"t":2962,"band":"i-band","mag":0.12},{"t":2987,"band":"i-band","mag":0.10},{"t":3012,"band":"i-band","mag":0.15},{"t":3037,"band":"i-band","mag":0.12},{"t":3062,"band":"i-band","mag":0.08},{"t":3087,"band":"i-band","mag":0.05},{"t":3112,"band":"i-band","mag":0.07},{"t":3137,"band":"i-band","mag":0.12},{"t":3162,"band":"i-band","mag":0.12},{"t":3187,"band":"i-band","mag":0.05},{"t":3212,"band":"i-band","mag":0.09},{"t":3237,"band":"i-band","mag":0.08},{"t":3262,"band":"i-band","mag":0.14},{"t":3287,"band":"i-band","mag":0.12},{"t":3312,"band":"i-band","mag":0.06},{"t":3337,"band":"i-band","mag":0.03},{"t":3362,"band":"i-band","mag":-0.01},{"t":3387,"band":"i-band","mag":-0.07},{"t":3412,"band":"i-band","mag":-0.14},{"t":3437,"band":"i-band","mag":-0.10},{"t":3462,"band":"i-band","mag":-0.14},{"t":3487,"band":"i-band","mag":-0.12},{"t":3512,"band":"i-band","mag":-0.15},{"t":3537,"band":"i-band","mag":-0.07},{"t":3562,"band":"i-band","mag":-0.02},{"t":3587,"band":"i-band","mag":0.05},{"t":3612,"band":"i-band","mag":0.03},{"t":3637,"band":"i-band","mag":-0.04}
    ]
  },
  "mark": {"type": "line", "strokeWidth": 2, "strokeJoin": "miter"},
  "encoding": {
    "x": {
      "field": "t",
      "type": "quantitative",
      "title": "Time (day)",
      "scale": {"domain": [-182.5, 3832.5], "nice": false, "zero": false},
      "axis": {"values": [0, 1000, 2000, 3000], "format": "d", "titlePadding": 4}
    },
    "y": {
      "field": "mag",
      "type": "quantitative",
      "title": "Flux (mag)",
      "scale": {"domain": [-0.4825, 0.6725], "reverse": true, "nice": false, "zero": false},
      "axis": {"values": [-0.4, -0.2, 0, 0.2, 0.4, 0.6], "format": ".1f", "titlePadding": 12}
    },
    "color": {
      "field": "band",
      "type": "nominal",
      "scale": {"domain": ["g-band", "r-band", "i-band"], "range": ["#2ca02c", "#d62728", "#ff7f0e"]},
      "legend": {
        "title": null,
        "orient": "none",
        "legendX": 12,
        "legendY": 260,
        "labelFontSize": 20,
        "labelColor": "black",
        "symbolType": "M-2.25,0H2.25",
        "symbolStrokeWidth": 2,
        "symbolSize": 400,
        "symbolOffset": 9,
        "labelOffset": 25,
        "rowPadding": 11,
        "padding": 8,
        "fillColor": "white",
        "strokeColor": "#cccccc",
        "cornerRadius": 4
      }
    }
  }
}
